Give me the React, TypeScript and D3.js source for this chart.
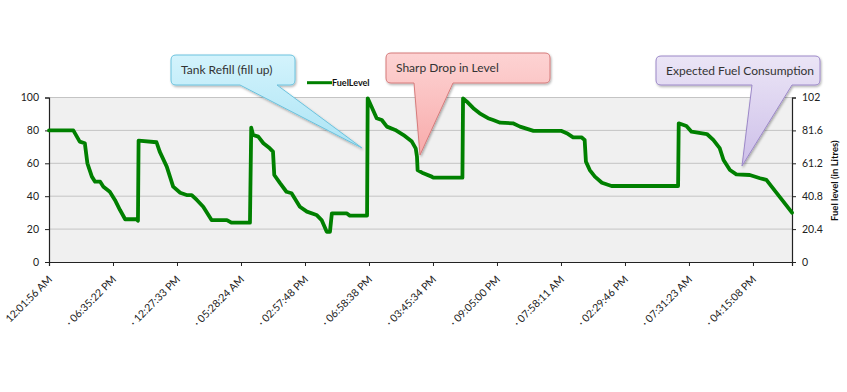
import React, { useEffect, useRef } from "react";
import * as d3 from "d3";

// sample index along the category axis, one label every 100 samples
const sampleIndex = [
  0, 38, 48, 56, 60, 67, 72, 80, 85, 95, 103, 111, 119, 137, 139,
  140, 168, 173, 184, 194, 205, 215, 223, 231, 241, 254, 278, 285, 314,
  316, 319, 327, 335, 345, 350, 352, 361, 371, 379, 392, 403, 418, 426, 434, 439, 442, 465, 470, 497,
  498, 504, 512, 520, 528, 541, 554, 567, 573, 575, 576, 585, 598, 600, 646,
  647, 653, 663, 673, 686, 694, 705, 725, 736, 757, 801, 809, 819, 832, 837, 839, 845, 853, 864, 879, 983,
  984, 996, 1004, 1028, 1038, 1048, 1054, 1064, 1074, 1095, 1111, 1121, 1161
];

const fuelLevel = [
  80, 80, 73.2, 72.2, 60, 51.9, 48.8, 48.8, 45.8, 42.7, 37.7, 31.6, 26, 26, 25.1,
  73.8, 72.8, 67.1, 58, 45.8, 42.1, 40.7, 40.7, 37.7, 33.6, 25.5, 25.5, 23.9, 23.9,
  81.7, 77.2, 76.2, 72.2, 69.1, 67.1, 52.9, 47.9, 42.7, 41.8, 33.6, 30.6, 28.6, 25.5, 18.4, 18.4, 29.6, 29.6, 28.2, 28.2,
  99.5, 94.4, 87.4, 86.3, 82.3, 80.3, 77.2, 73.2, 69.1, 64, 55.9, 53.9, 51.9, 51.3, 51.3,
  99.5, 97.5, 93.5, 90.4, 87.4, 86.3, 84.7, 84.3, 82.3, 79.7, 79.7, 78.3, 75.8, 75.8, 74.2, 61, 55.9, 51.9, 48.2, 46.2, 46.2,
  84.3, 82.7, 79.2, 77.8, 74.2, 69.2, 62, 55.9, 53.3, 52.9, 50.9, 49.9, 30
];

const tickLabels = [
  "12:01:56 AM", "06:35:22 PM", "12:27:33 PM", "05:28:24 AM", "02:57:48 PM", "06:58:38 PM",
  "03:45:34 PM", "09:05:00 PM", "07:58:11 AM", "02:29:46 PM", "07:31:23 AM", "04:15:08 PM"
];
const tickStep = 100;
const sampleCount = 1161;

const leftTicks = [0, 20, 40, 60, 80, 100];
const rightTicks = [0, 20.4, 40.8, 61.2, 81.6, 102];

const callouts = [
  { text: "Tank Refill (fill up)", x: 171, y: 55, w: 124, h: 30, b1: 240, b2: 277, tx: 362, ty: 148, top: "#d3f3fc", bottom: "#ace4f5", stroke: "#6cc3de" },
  { text: "Sharp Drop in Level", x: 386, y: 53, w: 164, h: 30, b1: 414, b2: 453, tx: 420, ty: 155, top: "#fdd3d3", bottom: "#f8abab", stroke: "#d67b7b" },
  { text: "Expected Fuel Consumption", x: 656, y: 56, w: 164, h: 29, b1: 752, b2: 792, tx: 742, ty: 166, top: "#ebe5f6", bottom: "#cdbfe9", stroke: "#9c88c8" }
];

const FONT = "Lato, 'Open Sans', sans-serif";
const dimension = { width: 743, height: 164.5, margin: { top: 97.5, left: 49 } };

function calloutPath(c) {
  const { x, y, w, h, b1, b2, tx, ty } = c;
  const r = 5;
  return `M${x + r},${y} H${x + w - r} Q${x + w},${y} ${x + w},${y + r} V${y + h - r} Q${x + w},${y + h} ${x + w - r},${y + h}` +
    ` H${b2} L${tx},${ty} L${b1},${y + h} H${x + r} Q${x},${y + h} ${x},${y + h - r} V${y + r} Q${x},${y} ${x + r},${y} Z`;
}

function draw(node) {
  const { width, height, margin } = dimension;
  const root = d3.select(node);
  root.selectAll("*").remove();

  const defs = root.append("defs");
  defs.append("filter").attr("id", "shadow").attr("x", "-20%").attr("y", "-20%").attr("width", "140%").attr("height", "140%")
    .append("feDropShadow").attr("dx", 1).attr("dy", 1.5).attr("stdDeviation", 1.2).attr("flood-opacity", 0.3);
  callouts.forEach((c, i) => {
    const g = defs.append("linearGradient").attr("id", `cg${i}`).attr("x1", 0).attr("y1", 0).attr("x2", 0).attr("y2", 1);
    g.append("stop").attr("offset", "0%").attr("stop-color", c.top);
    g.append("stop").attr("offset", "100%").attr("stop-color", c.bottom);
  });

  const svg = root.append("g").attr("transform", `translate(${margin.left},${margin.top})`);

  const x = d3.scaleLinear().domain([0, sampleCount]).range([0, width]);
  const y = d3.scaleLinear().domain([0, 100]).range([height, 0]);
  const y2 = d3.scaleLinear().domain([0, 102]).range([height, 0]);

  svg.append("rect").attr("width", width).attr("height", height).attr("fill", "#f0f0f0");

  // grid lines
  svg.append("g").selectAll("line").data(leftTicks.filter(d => d > 0)).enter().append("line")
    .attr("x1", 0).attr("x2", width).attr("y1", d => y(d)).attr("y2", d => y(d))
    .attr("stroke", "#c4c4c4").attr("stroke-width", 1);

  // left axis
  const left = svg.append("g").call(d3.axisLeft(y).tickValues(leftTicks).tickSize(4).tickPadding(6));
  // right axis
  const right = svg.append("g").attr("transform", `translate(${width},0)`)
    .call(d3.axisRight(y2).tickValues(rightTicks).tickSize(4).tickPadding(6).tickFormat(d => String(d)));
  // bottom axis
  const tickValues = tickLabels.map((_, i) => i * tickStep);
  const bottom = svg.append("g").attr("transform", `translate(0,${height})`)
    .call(d3.axisBottom(x).tickValues(tickValues).tickSize(4).tickFormat(""));

  [left, right, bottom].forEach(a => {
    a.select(".domain").attr("stroke", "#222").attr("stroke-width", 1.2);
    a.selectAll(".tick line").attr("stroke", "#222");
    a.selectAll("text").attr("fill", "#222").style("font-family", FONT).style("font-size", "10.5px");
  });

  svg.append("g").selectAll("text").data(tickLabels).enter().append("text")
    .attr("transform", (d, i) => `translate(${x(i * tickStep) + 4},${height + 18}) rotate(-45)`)
    .attr("text-anchor", "end")
    .style("font-family", FONT).style("font-size", "10.5px").attr("fill", "#222")
    .text((d, i) => (i === 0 ? d : "\u00b7 " + d));

  // right axis title
  svg.append("text")
    .attr("transform", `translate(${width + 46},${height / 2 + 1}) rotate(-90)`)
    .attr("text-anchor", "middle")
    .style("font-family", FONT).style("font-size", "9.5px").style("font-weight", "bold").attr("fill", "#111")
    .text("Fuel level (in Litres)");

  // series line
  const points = sampleIndex.map((s, i) => [s, fuelLevel[i]]);
  svg.append("path").datum(points)
    .attr("fill", "none").attr("stroke", "#008000").attr("stroke-width", 3.8)
    .attr("stroke-linejoin", "round").attr("stroke-linecap", "round")
    .attr("d", d3.line().x(d => x(d[0])).y(d => y(d[1])));

  // legend
  root.append("line").attr("x1", 307).attr("x2", 332).attr("y1", 82.7).attr("y2", 82.7)
    .attr("stroke", "#008000").attr("stroke-width", 3);
  root.append("text").attr("x", 332).attr("y", 86)
    .style("font-family", FONT).style("font-size", "9px").style("font-weight", "bold").attr("fill", "#111")
    .text("FuelLevel");

  // callouts
  const cg = root.append("g").selectAll("g").data(callouts).enter().append("g");
  cg.append("path").attr("d", d => calloutPath(d))
    .attr("fill", (d, i) => `url(#cg${i})`).attr("stroke", d => d.stroke).attr("stroke-width", 1)
    .attr("filter", "url(#shadow)");
  cg.append("text").attr("x", d => d.x + 10).attr("y", d => d.y + 19)
    .style("font-family", FONT).style("font-size", "12px").attr("fill", "#333")
    .text(d => d.text);
}

export default function App() {
  const ref = useRef(null);
  useEffect(() => {
    draw(ref.current);
  }, []);
  return (
    <svg ref={ref} width={847} height={392}
      style={{ position: "absolute", left: 0, top: 0, background: "#fff" }} />
  );
}
